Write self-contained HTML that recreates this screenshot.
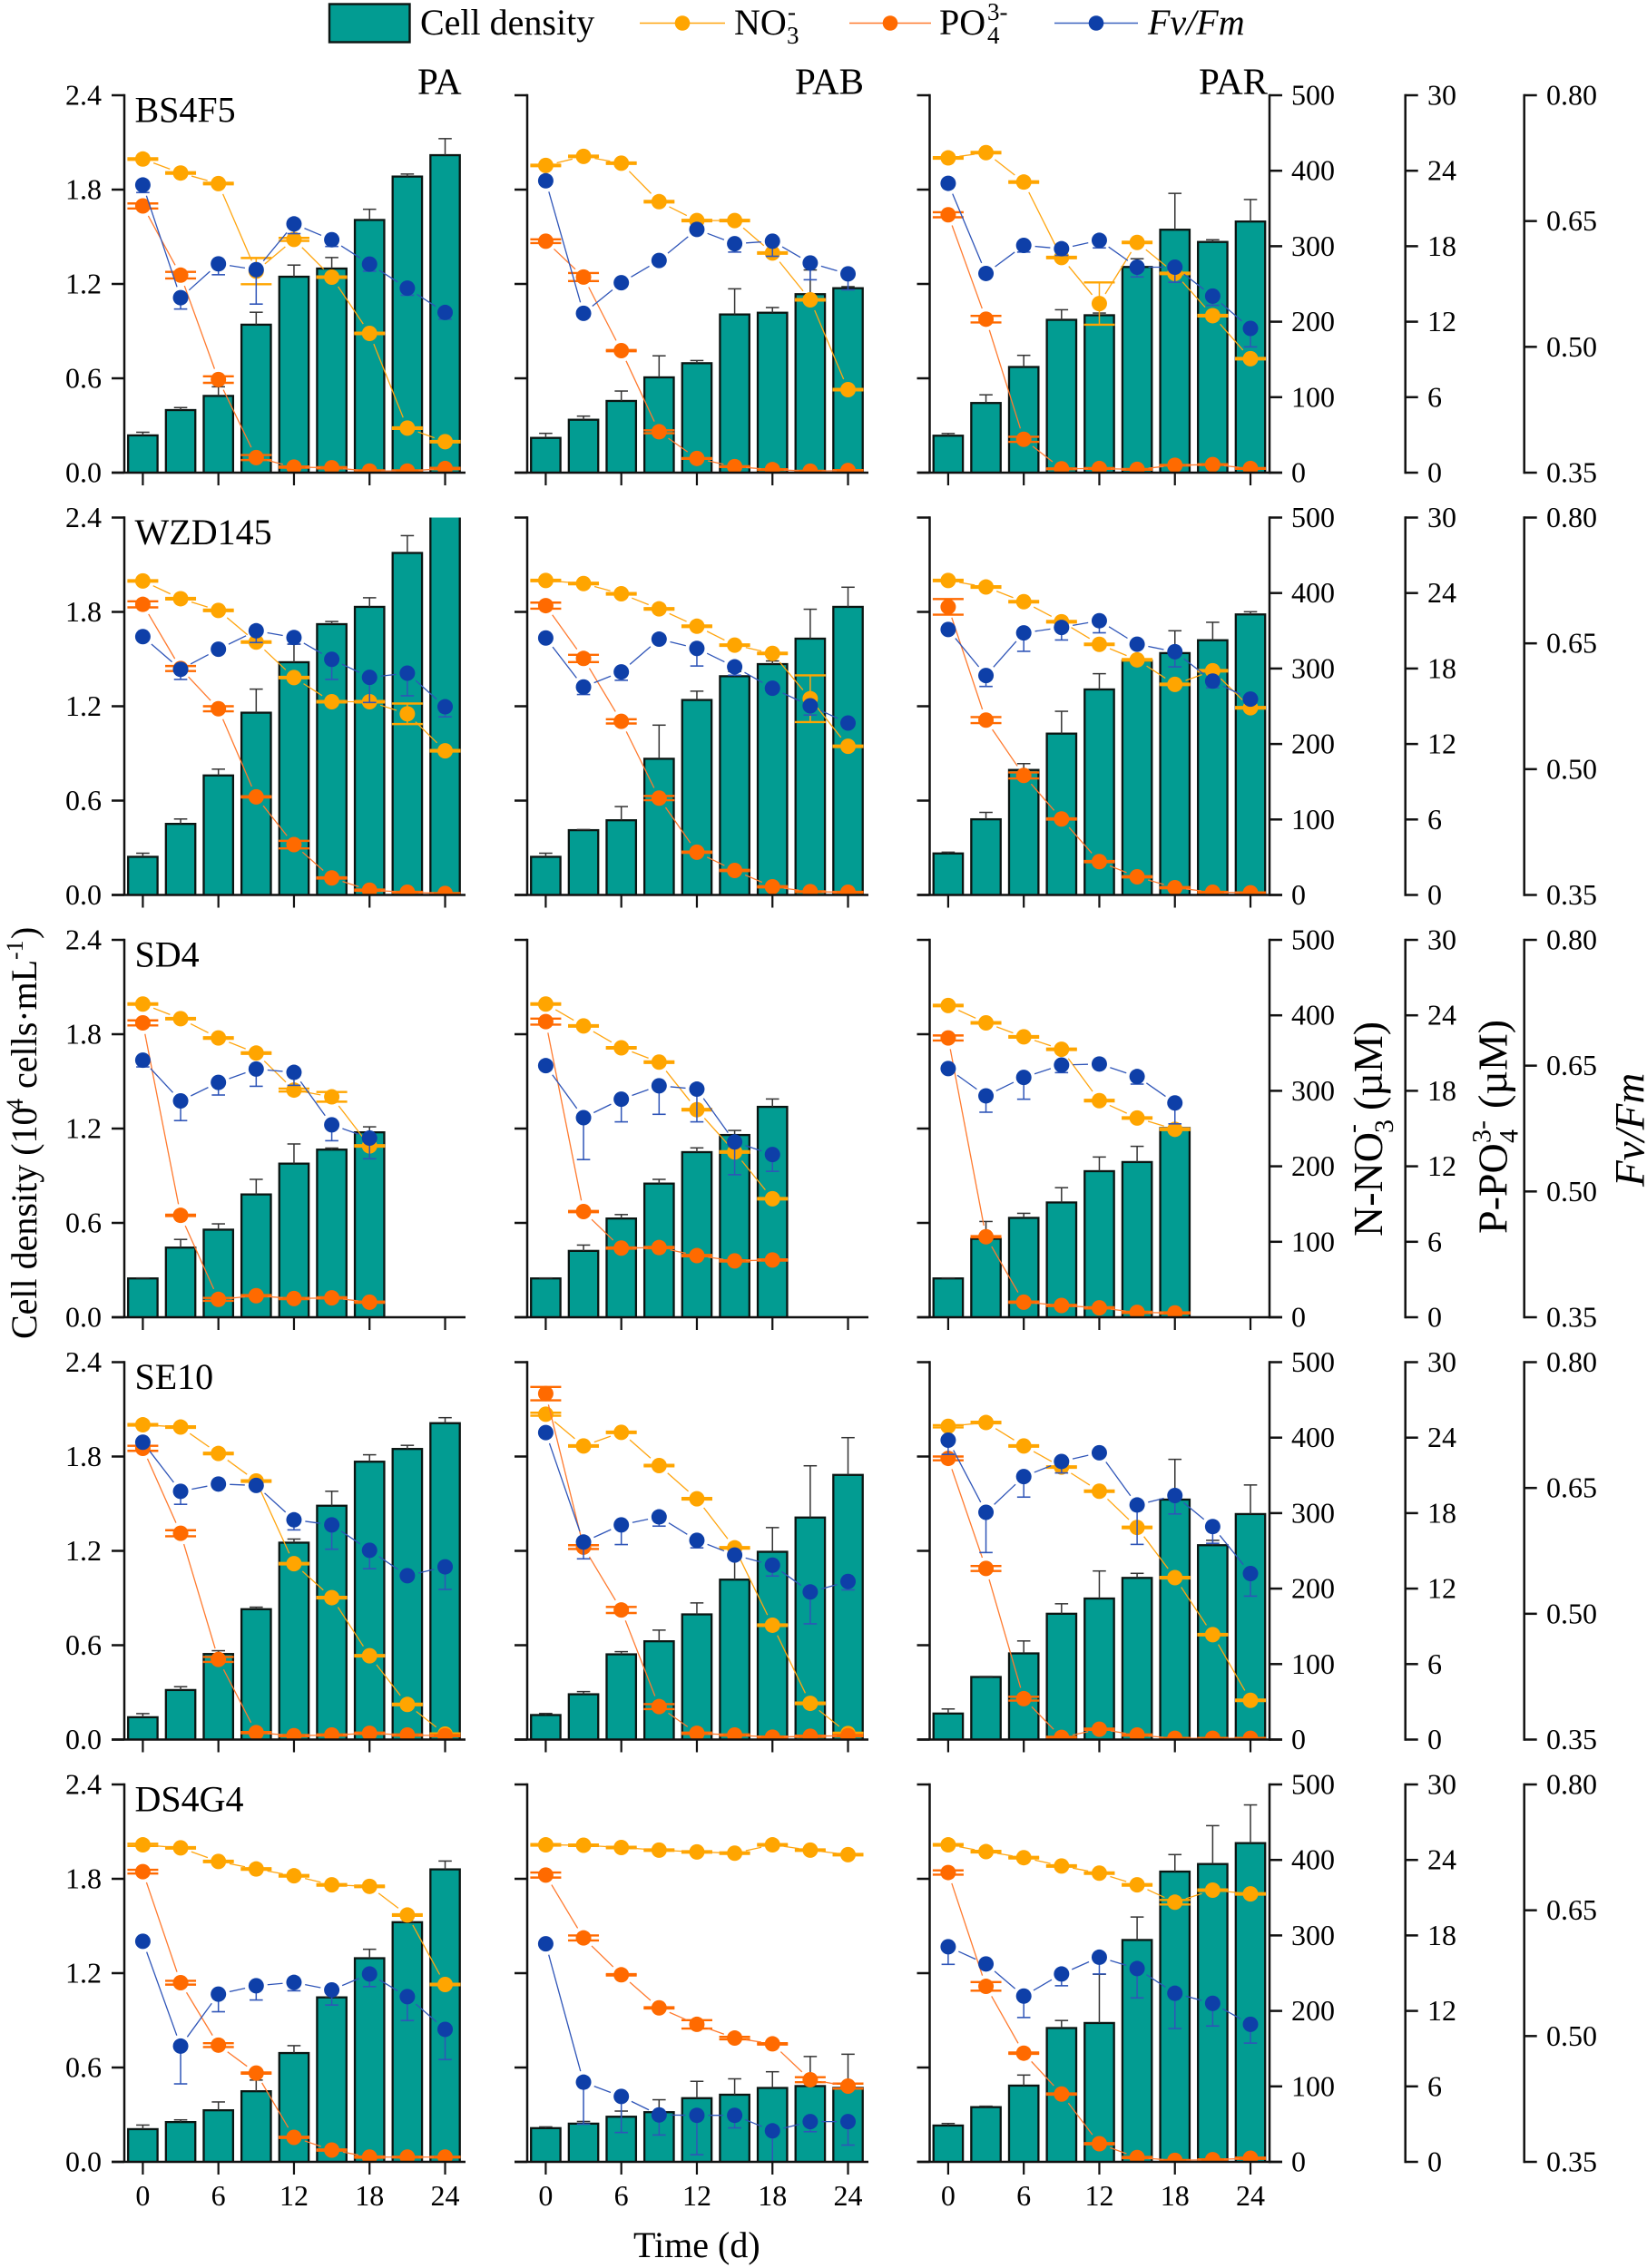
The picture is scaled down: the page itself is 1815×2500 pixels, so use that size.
<!DOCTYPE html>
<html lang="en">
<head>
<meta charset="utf-8">
<title>Cell density, nutrients and Fv/Fm time courses</title>
<style>
html,body{margin:0;padding:0;background:#fff;}
svg{display:block;}
text{font-family:"Liberation Serif","DejaVu Serif",serif;fill:#000;}
</style>
</head>
<body>
<svg id="chart" xmlns="http://www.w3.org/2000/svg" width="1815" height="2500" viewBox="0 0 1815 2500">
  <rect x="0" y="0" width="1815" height="2500" fill="#fff"/>
  <defs id="clips"></defs>
  <g id="plots"></g>

  <g>
    <g>
      <rect x="363" y="4.5" width="88.5" height="42" fill="#029c92" stroke="#0a1512" stroke-width="2.4"/>
      <text x="463" y="38" font-size="40">Cell density</text>
    </g>
    <g>
      <line x1="705" y1="25.5" x2="799" y2="25.5" stroke="#ffa50f" stroke-width="1.6"/>
      <circle cx="752" cy="25.5" r="8.3" fill="#ffa500"/>
      <text x="809" y="38" font-size="40">NO</text>
      <text x="867" y="48" font-size="27">3</text>
      <text x="868" y="22" font-size="27">-</text>
    </g>
    <g>
      <line x1="936" y1="25.5" x2="1026" y2="25.5" stroke="#ff7a2e" stroke-width="1.6"/>
      <circle cx="981" cy="25.5" r="8.3" fill="#ff6a00"/>
      <text x="1035" y="38" font-size="40">PO</text>
      <text x="1088" y="48" font-size="27">4</text>
      <text x="1088" y="22" font-size="27">3-</text>
    </g>
    <g>
      <line x1="1162" y1="25.5" x2="1254" y2="25.5" stroke="#3a62bf" stroke-width="1.6"/>
      <circle cx="1208" cy="25.5" r="8.3" fill="#0e3fa8"/>
      <text x="1265" y="38" font-size="40" font-style="italic">Fv/Fm</text>
    </g>
  </g>

  <text x="698" y="2488" font-size="40">Time (d)</text>

  <g transform="translate(40,1476) rotate(-90)">
    <text x="0" y="0" font-size="40">Cell density (10</text>
    <text x="252" y="-15" font-size="26">4</text>
    <text x="276" y="0" font-size="40">cells·mL</text>
    <text x="418" y="-15" font-size="26">-1</text>
    <text x="441" y="0" font-size="40">)</text>
  </g>
  <g transform="translate(1523,1363) rotate(-90)">
    <text x="0" y="0" font-size="46">N-NO</text>
    <text x="114" y="12" font-size="30">3</text>
    <text x="114" y="-23" font-size="30">-</text>
    <text x="139" y="0" font-size="46">(µM)</text>
  </g>
  <g transform="translate(1660.5,1360) rotate(-90)">
    <text x="0" y="0" font-size="46">P-PO</text>
    <text x="100" y="12" font-size="30">4</text>
    <text x="100" y="-18" font-size="30">3-</text>
    <text x="138" y="0" font-size="46">(µM)</text>
  </g>
  <text transform="translate(1811.5,1308) rotate(-90)" font-size="47" font-style="italic">Fv/Fm</text>
</svg>

<script>
const days = [0, 3, 6, 9, 12, 15, 18, 21, 24];
const xTickLabels = [0, 6, 12, 18, 24];
const cellTicks = [0, 0.6, 1.2, 1.8, 2.4];
const no3Ticks = [0, 100, 200, 300, 400, 500];
const po4Ticks = [0, 6, 12, 18, 24, 30];
const fvTicks = [0.35, 0.50, 0.65, 0.80];
const strains = ['BS4F5', 'WZD145', 'SD4', 'SE10', 'DS4G4'];
const lights = ['PA', 'PAB', 'PAR'];

/* BS4F5 PA */
const bs4f5PaCell = [.237,.398,.488,.941,1.246,1.298,1.607,1.883,2.019];
const bs4f5PaCellErr = [.02,.016,.058,.079,.074,.07,.068,.016,.105];
const bs4f5PaNo3 = [415.5,397,383,267,309,259,184.5,59,41];
const bs4f5PaNo3Err = [1,1,1,17.4,2,1,1,1,1];
const bs4f5PaPo4 = [21.2,15.7,7.4,1.2,.44,.39,.13,.13,.33];
const bs4f5PaPo4Err = [.2,.26,.26,.2,.05,.05,.05,.05,.05];
const bs4f5PaFv = [.693,.5586,.599,.592,.6466,.6277,.5987,.57,.541];
const bs4f5PaFvErr = [.009,.0135,.013,.041,.0116,.008,.0085,.0085,.008];
/* BS4F5 PAB */
const bs4f5PabCell = [.221,.3365,.456,.606,.696,1.006,1.017,1.135,1.173];
const bs4f5PabCellErr = [.029,.023,.063,.137,.017,.163,.033,.154,.01];
const bs4f5PabNo3 = [407,419,410,359,334,334,291,229,110];
const bs4f5PabNo3Err = [1,1,1,1,1,1,1,1,1];
const bs4f5PabPo4 = [18.4,15.55,9.7,3.25,1.13,.48,.24,.12,.17];
const bs4f5PabPo4Err = [.15,.32,.05,.12,.03,.03,.03,.03,.03];
const bs4f5PabFv = [.698,.54,.5765,.603,.64,.623,.626,.6,.587];
const bs4f5PabFvErr = [.004,.004,.004,.004,.004,.01,.018,.02,.019];
/* BS4F5 PAR */
const bs4f5ParCell = [.235,.443,.672,.972,1.001,1.308,1.545,1.467,1.597];
const bs4f5ParCellErr = [.014,.052,.074,.064,.014,.052,.231,.014,.14];
const bs4f5ParNo3 = [417,424,385,285,224,305,264,208,151];
const bs4f5ParNo3Err = [1,1,1,1,28,1,1,1,1];
const bs4f5ParPo4 = [20.5,12.2,2.65,.31,.33,.26,.59,.64,.33];
const bs4f5ParPo4Err = [.2,.26,.2,.03,.03,.03,.03,.03,.03];
const bs4f5ParFv = [.695,.5875,.621,.617,.627,.595,.595,.5605,.522];
const bs4f5ParFvErr = [.003,.003,.008,.008,.009,.0116,.018,.011,.022];

/* WZD145 PA */
const wzd145PaCell = [.2425,.452,.76,1.159,1.48,1.722,1.832,2.175,2.42];
const wzd145PaCellErr = [.023,.031,.04,.15,.115,.017,.058,.11,0];
const wzd145PaNo3 = [416,392.5,377,335,288,256,256,240,191];
const wzd145PaNo3Err = [1,1,1,1,1,1,1,13.6,1];
const wzd145PaPo4 = [23.1,18,14.8,7.8,4,1.35,.38,.22,.12];
const wzd145PaPo4Err = [.24,.2,.2,.05,.3,.05,.05,.03,.03];
const wzd145PaFv = [.658,.619,.643,.665,.657,.631,.6095,.6145,.5744];
const wzd145PaFvErr = [.003,.012,.003,.014,.008,.024,.03,.027,.012];
/* WZD145 PAB */
const wzd145PabCell = [.2425,.412,.475,.866,1.24,1.391,1.468,1.63,1.832];
const wzd145PabCellErr = [.023,.004,.087,.214,.056,.03,.02,.187,.125];
const wzd145PabNo3 = [416.6,412.6,399,379,356,331,320,260,197];
const wzd145PabNo3Err = [1,1,1,1,1,1,1,31,1];
const wzd145PabPo4 = [23,18.8,13.8,7.7,3.4,1.95,.65,.26,.22];
const wzd145PabPo4Err = [.24,.29,.17,.17,.05,.05,.05,.03,.03];
const wzd145PabFv = [.6564,.598,.616,.655,.644,.622,.5965,.5755,.555];
const wzd145PabFvErr = [.003,.009,.01,.003,.021,.01,.003,.011,.003];
/* WZD145 PAR */
const wzd145ParCell = [.264,.481,.795,1.026,1.307,1.49,1.538,1.62,1.784];
const wzd145ParCellErr = [.008,.044,.04,.142,.1,.02,.142,.114,.017];
const wzd145ParNo3 = [416.6,408,388.5,362,332,311.5,279,297,248];
const wzd145ParNo3Err = [1,1,1,1,1,1,1,1,1];
const wzd145ParPo4 = [22.9,13.9,9.5,6.04,2.65,1.44,.58,.22,.17];
const wzd145ParPo4Err = [.62,.24,.24,.05,.05,.05,.05,.03,.03];
const wzd145ParFv = [.6665,.6116,.6625,.669,.677,.649,.64,.605,.5835];
const wzd145ParFvErr = [.003,.013,.022,.015,.0144,.003,.018,.008,.003];

/* SD4 PA */
const sd4PaCell = [.247,.443,.557,.781,.977,1.066,1.176];
const sd4PaCellErr = [.003,.052,.037,.096,.125,.01,.035];
const sd4PaNo3 = [415,395.6,370,350,301,292,227];
const sd4PaNo3Err = [1,1,1,1,2,6.4,1];
const sd4PaPo4 = [23.4,8.1,1.42,1.71,1.49,1.54,1.2];
const sd4PaPo4Err = [.2,.05,.12,.05,.05,.05,.05];
const sd4PaFv = [.6565,.608,.63,.646,.642,.5795,.5636];
const sd4PaFvErr = [.008,.0235,.015,.0206,.0155,.019,.0246];
/* SD4 PAB */
const sd4PabCell = [.247,.422,.628,.85,1.05,1.159,1.338];
const sd4PabCellErr = [.003,.037,.025,.027,.027,.029,.05];
const sd4PabNo3 = [415,386,357,338,275,219,157];
const sd4PabNo3Err = [1,1,1,1,1,1,1];
const sd4PabPo4 = [23.5,8.4,5.5,5.54,4.9,4.48,4.55];
const sd4PabPo4Err = [.24,.05,.05,.05,.05,.05,.05];
const sd4PabFv = [.65,.588,.61,.626,.622,.559,.544];
const sd4PabFvErr = [.003,.05,.027,.034,.039,.039,.02];
/* SD4 PAR */
const sd4ParCell = [.247,.499,.632,.73,.929,.987,1.203];
const sd4ParCellErr = [.003,.11,.029,.094,.09,.1,.01];
const sd4ParNo3 = [413,390,371.5,355,287,264,249];
const sd4ParNo3Err = [1,1,1,1,1,1,1];
const sd4ParPo4 = [22.2,6.4,1.2,.94,.75,.39,.34];
const sd4ParPo4Err = [.2,.05,.05,.05,.05,.05,.05];
const sd4ParFv = [.6465,.614,.636,.6507,.652,.637,.6056];
const sd4ParFvErr = [.003,.0195,.026,.009,.003,.009,.025];

/* SE10 PA */
const se10PaCell = [.142,.315,.544,.829,1.252,1.487,1.767,1.848,2.012];
const se10PaCellErr = [.023,.021,.021,.013,.023,.092,.044,.023,.035];
const se10PaNo3 = [417,414,379,342.5,233,188,111,46.5,7.2];
const se10PaNo3Err = [1,1,1,1,1,1,1,1,1];
const se10PaPo4 = [23.15,16.4,6.37,.55,.31,.36,.5,.36,.31];
const se10PaPo4Err = [.2,.24,.2,.05,.05,.05,.05,.05,.05];
const se10PaFv = [.7045,.646,.6547,.653,.612,.606,.5757,.5454,.556];
const se10PaFvErr = [.003,.0155,.003,.003,.012,.029,.022,.003,.027];
/* SE10 PAB */
const se10PabCell = [.156,.288,.542,.625,.796,1.017,1.194,1.412,1.683];
const se10PabCellErr = [.01,.017,.017,.071,.073,.135,.154,.329,.237];
const se10PabNo3 = [431,389,407,363,319,254,151.5,48,8];
const se10PabNo3Err = [2,1,1,1,1,1,1,1,1];
const se10PabPo4 = [27.5,15.3,10.3,2.62,.5,.36,.19,.26,.31];
const se10PabPo4Err = [.53,.15,.24,.2,.05,.05,.05,.05,.05];
const se10PabFv = [.716,.5855,.606,.6155,.5876,.57,.558,.526,.5385];
const se10PabFvErr = [.003,.02,.0235,.011,.009,.003,.013,.038,.01];
/* SE10 PAR */
const se10ParCell = [.1655,.398,.548,.8,.897,1.028,1.526,1.236,1.434];
const se10ParCellErr = [.029,.003,.079,.0635,.175,.029,.256,.031,.185];
const se10ParNo3 = [415,420,389,361,329,281,214.5,139,52];
const se10ParNo3Err = [1.5,1,1,1,1,1,1,1,1];
const se10ParPo4 = [22.35,13.6,3.25,.17,.82,.36,.1,.1,.1];
const se10ParPo4Err = [.15,.2,.15,.05,.05,.05,.03,.03,.03];
const se10ParFv = [.707,.621,.6636,.6816,.692,.6297,.641,.604,.548];
const se10ParFvErr = [.017,.048,.0245,.0137,.003,.047,.022,.02,.027];

/* DS4G4 PA */
const ds4g4PaCell = [.208,.253,.328,.449,.692,1.046,1.295,1.524,1.86];
const ds4g4PaCellErr = [.026,.014,.053,.071,.047,.003,.057,.003,.053];
const ds4g4PaNo3 = [420,416,398,388,379,367,365,327,235];
const ds4g4PaNo3Err = [1.5,1,1,1,1,1,1,1,1];
const ds4g4PaPo4 = [23.07,14.24,9.28,7.06,1.95,.94,.38,.38,.38];
const ds4g4PaPo4Err = [.15,.15,.15,.05,.05,.05,.05,.03,.03];
const ds4g4PaFv = [.613,.488,.55,.56,.564,.555,.574,.547,.508];
const ds4g4PaFvErr = [.003,.045,.021,.017,.01,.018,.015,.0285,.036];
/* DS4G4 PAB */
const ds4g4PabCell = [.2145,.243,.287,.316,.405,.427,.47,.482,.47];
const ds4g4PabCellErr = [.008,.014,.036,.079,.107,.101,.103,.188,.2145];
const ds4g4PabNo3 = [420,419.5,416.5,413,410.6,409,420,413,407];
const ds4g4PabNo3Err = [1,1,1,1,1,1,1,1,1];
const ds4g4PabPo4 = [22.8,17.8,14.87,12.24,10.93,9.84,9.38,6.53,6.02];
const ds4g4PabPo4Err = [.2,.2,.05,.05,.33,.1,.05,.2,.2];
const ds4g4PabFv = [.61,.445,.428,.406,.4055,.4055,.387,.398,.398];
const ds4g4PabFvErr = [.003,.05,.043,.024,.047,.015,.037,.012,.028];
/* DS4G4 PAR */
const ds4g4ParCell = [.231,.348,.485,.851,.883,1.411,1.846,1.894,2.027];
const ds4g4ParCellErr = [.013,.006,.067,.048,.31,.146,.108,.244,.243];
const ds4g4ParNo3 = [420,411,403,392,382.5,367,344,360,355];
const ds4g4ParNo3Err = [1,1,1,1,1,1,3,1,1];
const ds4g4ParPo4 = [23,13.95,8.64,5.39,1.44,.34,.12,.17,.29];
const ds4g4ParPo4Err = [.17,.34,.05,.05,.05,.05,.03,.03,.05];
const ds4g4ParFv = [.6065,.586,.5477,.574,.594,.5805,.551,.539,.514];
const ds4g4ParFvErr = [.021,.003,.0256,.014,.02,.035,.042,.027,.0224];

const panelCell = [
  [bs4f5PaCell, bs4f5PabCell, bs4f5ParCell],
  [wzd145PaCell, wzd145PabCell, wzd145ParCell],
  [sd4PaCell, sd4PabCell, sd4ParCell],
  [se10PaCell, se10PabCell, se10ParCell],
  [ds4g4PaCell, ds4g4PabCell, ds4g4ParCell]
];
const panelCellErr = [
  [bs4f5PaCellErr, bs4f5PabCellErr, bs4f5ParCellErr],
  [wzd145PaCellErr, wzd145PabCellErr, wzd145ParCellErr],
  [sd4PaCellErr, sd4PabCellErr, sd4ParCellErr],
  [se10PaCellErr, se10PabCellErr, se10ParCellErr],
  [ds4g4PaCellErr, ds4g4PabCellErr, ds4g4ParCellErr]
];
const panelNo3 = [
  [bs4f5PaNo3, bs4f5PabNo3, bs4f5ParNo3],
  [wzd145PaNo3, wzd145PabNo3, wzd145ParNo3],
  [sd4PaNo3, sd4PabNo3, sd4ParNo3],
  [se10PaNo3, se10PabNo3, se10ParNo3],
  [ds4g4PaNo3, ds4g4PabNo3, ds4g4ParNo3]
];
const panelNo3Err = [
  [bs4f5PaNo3Err, bs4f5PabNo3Err, bs4f5ParNo3Err],
  [wzd145PaNo3Err, wzd145PabNo3Err, wzd145ParNo3Err],
  [sd4PaNo3Err, sd4PabNo3Err, sd4ParNo3Err],
  [se10PaNo3Err, se10PabNo3Err, se10ParNo3Err],
  [ds4g4PaNo3Err, ds4g4PabNo3Err, ds4g4ParNo3Err]
];
const panelPo4 = [
  [bs4f5PaPo4, bs4f5PabPo4, bs4f5ParPo4],
  [wzd145PaPo4, wzd145PabPo4, wzd145ParPo4],
  [sd4PaPo4, sd4PabPo4, sd4ParPo4],
  [se10PaPo4, se10PabPo4, se10ParPo4],
  [ds4g4PaPo4, ds4g4PabPo4, ds4g4ParPo4]
];
const panelPo4Err = [
  [bs4f5PaPo4Err, bs4f5PabPo4Err, bs4f5ParPo4Err],
  [wzd145PaPo4Err, wzd145PabPo4Err, wzd145ParPo4Err],
  [sd4PaPo4Err, sd4PabPo4Err, sd4ParPo4Err],
  [se10PaPo4Err, se10PabPo4Err, se10ParPo4Err],
  [ds4g4PaPo4Err, ds4g4PabPo4Err, ds4g4ParPo4Err]
];
const panelFv = [
  [bs4f5PaFv, bs4f5PabFv, bs4f5ParFv],
  [wzd145PaFv, wzd145PabFv, wzd145ParFv],
  [sd4PaFv, sd4PabFv, sd4ParFv],
  [se10PaFv, se10PabFv, se10ParFv],
  [ds4g4PaFv, ds4g4PabFv, ds4g4ParFv]
];
const panelFvErr = [
  [bs4f5PaFvErr, bs4f5PabFvErr, bs4f5ParFvErr],
  [wzd145PaFvErr, wzd145PabFvErr, wzd145ParFvErr],
  [sd4PaFvErr, sd4PabFvErr, sd4ParFvErr],
  [se10PaFvErr, se10PabFvErr, se10ParFvErr],
  [ds4g4PaFvErr, ds4g4PabFvErr, ds4g4ParFvErr]
];

const NS = 'http://www.w3.org/2000/svg';
const root = document.getElementById('plots');
const clips = document.getElementById('clips');
const rowTop = [105, 570.5, 1036, 1501.5, 1967];
const colAxis = [137, 581, 1024.5];
const plotH = 416;
const dayPx = 13.88;
const markerR = 8.5;
const lineGap = 12.5;
const barW = 32.4;
const axisColor = '#111';
const TEAL = '#029c92';
const NO3C = '#ffa500', NO3L = '#ffa50f';
const PO4C = '#ff6a00', PO4L = '#ff7a2e';
const FVC = '#0e3fa8', FVL = '#2f55b8';

function make(tag, parent) {
  const el = document.createElementNS(NS, tag);
  parent.appendChild(el);
  return el;
}
function setLine(el, x1, y1, x2, y2, color, w) {
  el.setAttribute('x1', x1);
  el.setAttribute('y1', y1);
  el.setAttribute('x2', x2);
  el.setAttribute('y2', y2);
  el.setAttribute('stroke', color);
  el.setAttribute('stroke-width', w);
}
function scaleX(r, c) {
  const x0 = colAxis[c] + 20.4;
  return d => x0 + d * dayPx;
}
function scaleY(r, lo, hi) {
  const bottom = rowTop[r] + plotH;
  return v => bottom - (v - lo) / (hi - lo) * plotH;
}

function drawSeries(g, seriesName, xs, ys, vals, errs, color, lineColor, capW, capT, lowerOnly) {
  const grp = make('g', g);
  
  
  vals.forEach((v, i) => {
    const x = xs(days[i]);
    const e = errs[i];
    const low = ys(v - e);
    const high = ys(v + e);
    const stem = make('line', grp);
    setLine(stem, x, lowerOnly ? ys(v) : high, x, low, lineColor, 1.5);
    
    
    const capLow = make('line', grp);
    setLine(capLow, x - capW / 2, low, x + capW / 2, low, lowerOnly ? lineColor : color, capT);
    
    
    if (!lowerOnly) {
      const capHigh = make('line', grp);
      setLine(capHigh, x - capW / 2, high, x + capW / 2, high, color, capT);
      
      
    }
  });
  for (let i = 0; i + 1 < vals.length; i++) {
    const x1 = xs(days[i]), y1 = ys(vals[i]);
    const x2 = xs(days[i + 1]), y2 = ys(vals[i + 1]);
    const len = Math.hypot(x2 - x1, y2 - y1);
    if (len <= 2 * lineGap) continue;
    const ux = (x2 - x1) / len, uy = (y2 - y1) / len;
    const seg = make('line', grp);
    setLine(seg, x1 + ux * lineGap, y1 + uy * lineGap, x2 - ux * lineGap, y2 - uy * lineGap, lineColor, 1.3);
    
    
  }
  vals.forEach((v, i) => {
    const dot = make('circle', grp);
    dot.setAttribute('cx', xs(days[i]));
    dot.setAttribute('cy', ys(v));
    dot.setAttribute('r', markerR);
    dot.setAttribute('fill', color);
    
    
  });
}

function drawPanel(r, c) {
  const top = rowTop[r], bottom = top + plotH, axisX = colAxis[c];
  const xs = scaleX(r, c);
  const yCell = scaleY(r, 0, 2.4);
  const yNo3 = scaleY(r, 0, 500);
  const yPo4 = scaleY(r, 0, 30);
  const yFv = scaleY(r, 0.35, 0.80);

  const panel = make('g', root);
  
  

  const clip = make('clipPath', clips);
  clip.setAttribute('id', 'clip-' + r + '-' + c);
  const clipRect = make('rect', clip);
  clipRect.setAttribute('x', axisX);
  clipRect.setAttribute('y', top);
  clipRect.setAttribute('width', 375);
  clipRect.setAttribute('height', plotH);

  const data = make('g', panel);
  data.setAttribute('clip-path', 'url(#clip-' + r + '-' + c + ')');
  
  

  const cell = panelCell[r][c];
  const cellErr = panelCellErr[r][c];
  cell.forEach((v, i) => {
    const x = xs(days[i]);
    const bar = make('rect', data);
    bar.setAttribute('x', x - barW / 2);
    bar.setAttribute('y', yCell(v));
    bar.setAttribute('width', barW);
    bar.setAttribute('height', bottom - yCell(v) + 3);
    bar.setAttribute('fill', TEAL);
    bar.setAttribute('stroke', '#0a1512');
    bar.setAttribute('stroke-width', 2.3);
    
    
  });
  cell.forEach((v, i) => {
    const x = xs(days[i]);
    const t = yCell(v + cellErr[i]);
    const stem = make('line', data);
    setLine(stem, x, yCell(v), x, t, '#333', 1.5);
    
    
    const cap = make('line', data);
    setLine(cap, x - 7.3, t, x + 7.3, t, '#333', 1.5);
    
    
  });

  drawSeries(data, 'no3', xs, yNo3, panelNo3[r][c], panelNo3Err[r][c], NO3C, NO3L, 34, 2.4, false);
  drawSeries(data, 'po4', xs, yPo4, panelPo4[r][c], panelPo4Err[r][c], PO4C, PO4L, 34, 2.4, false);
  drawSeries(data, 'fv-fm', xs, yFv, panelFv[r][c], panelFvErr[r][c], FVC, FVL, 14.6, 1.6, true);

  /* left axis */
  const yAxis = make('line', panel);
  setLine(yAxis, axisX, top - 1.2, axisX, bottom, axisColor, 2.5);
  
  
  cellTicks.forEach(t => {
    const y = yCell(t);
    const tick = make('line', panel);
    setLine(tick, axisX - 14, y, axisX, y, axisColor, 2.5);
    
    
    if (c === 0) {
      const lab = make('text', panel);
      lab.setAttribute('x', 112);
      lab.setAttribute('y', y + 10.5);
      lab.setAttribute('font-size', 32);
      lab.setAttribute('text-anchor', 'end');
      lab.textContent = t.toFixed(1);
      
      
    }
  });

  /* bottom axis */
  const xAxis = make('line', panel);
  setLine(xAxis, axisX - 14, bottom, c === 2 ? 1413 : axisX + 376, bottom, axisColor, 2.5);
  
  
  xTickLabels.forEach(t => {
    const x = xs(t);
    const tick = make('line', panel);
    setLine(tick, x, bottom, x, bottom + 14, axisColor, 2.2);
    
    
    if (r === 4) {
      const lab = make('text', panel);
      lab.setAttribute('x', x);
      lab.setAttribute('y', bottom + 48);
      lab.setAttribute('font-size', 32);
      lab.setAttribute('text-anchor', 'middle');
      lab.textContent = t;
      
      
    }
  });

  /* right axes on the last column */
  if (c === 2) {
    drawRightAxis(panel, r, 1399, 1423, no3Ticks, yNo3, 0, 'no3');
    drawRightAxis(panel, r, 1548.7, 1573, po4Ticks, yPo4, 0, 'po4');
    drawRightAxis(panel, r, 1679.7, 1704, fvTicks, yFv, 2, 'fv-fm');
  }
}

function drawRightAxis(parent, r, x, labelX, ticks, ys, decimals, name) {
  const top = rowTop[r], bottom = top + plotH;
  const axis = make('line', parent);
  setLine(axis, x, top - 1.2, x, bottom + 1.2, axisColor, 2.5);
  
  
  ticks.forEach(t => {
    const y = ys(t);
    const tick = make('line', parent);
    setLine(tick, x, y, x + 14, y, axisColor, 2.5);
    
    
    const lab = make('text', parent);
    lab.setAttribute('x', labelX);
    lab.setAttribute('y', y + 10.5);
    lab.setAttribute('font-size', 32);
    lab.textContent = decimals ? t.toFixed(decimals) : t;
    
    
  });
}

for (let r = 0; r < strains.length; r++) {
  for (let c = 0; c < lights.length; c++) {
    drawPanel(r, c);
  }
  const strainLabel = make('text', root);
  strainLabel.setAttribute('x', 148.5);
  strainLabel.setAttribute('y', rowTop[r] + 29.5);
  strainLabel.setAttribute('font-size', 40);
  strainLabel.textContent = strains[r];
  
  
}

const lightX = [460, 876, 1321];
lights.forEach((name, i) => {
  const label = make('text', root);
  label.setAttribute('x', lightX[i]);
  label.setAttribute('y', 103.5);
  label.setAttribute('font-size', 41);
  label.textContent = name;
  
  
});
</script>
</body>
</html>
